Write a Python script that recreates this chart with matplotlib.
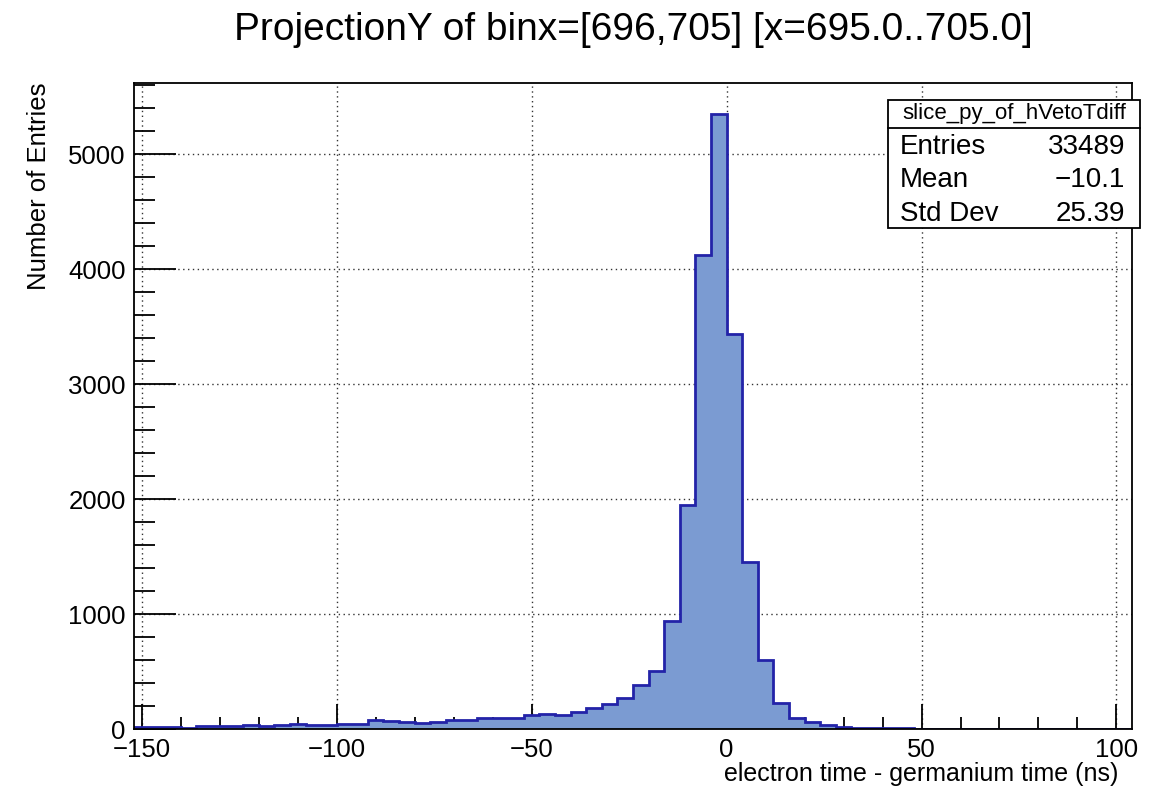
import numpy as np
import matplotlib
matplotlib.use('Agg')
import matplotlib.pyplot as plt
from matplotlib.ticker import MultipleLocator, FuncFormatter

plt.rcParams['font.family'] = ['Liberation Sans', 'DejaVu Sans']

# 4 ns bins from -152 to 104 ns
bin_edges = np.arange(-152, 105, 4)
counts = [
    23, 23, 23, 12, 26, 26, 26, 38, 29, 41, 49, 38, 38, 49, 49, 84,
    75, 64, 58, 61, 78, 78, 96, 96, 96, 125, 137, 127, 155, 190, 220, 275,
    386, 511, 939, 1949, 4124, 5352, 3440, 1458, 602, 233, 96, 67, 41, 20, 12, 10,
    9, 8, 2, 2, 1, 6, 6, 1, 1, 1, 1, 1, 6, 6, 6, 2,
]

title = 'ProjectionY of binx=[696,705] [x=695.0..705.0]'
stats_name = 'slice_py_of_hVetoTdiff'
stats_rows = [('Entries', '33489'), ('Mean', '\u221210.1'), ('Std Dev', '25.39')]

fill_col = '#7b9bd2'
line_col = '#2323a8'

fig = plt.figure(figsize=(11.6, 7.86), dpi=100)
ax = fig.add_axes([0.1155, 0.072, 0.8604, 0.8225])

ax.stairs(counts, bin_edges, fill=True, color=fill_col, zorder=2)
ax.stairs(counts, bin_edges, color=line_col, linewidth=2, zorder=3)

ax.set_xlim(bin_edges[0], bin_edges[-1])
ax.set_ylim(0, max(counts) * 1.05)

ax.xaxis.set_major_locator(MultipleLocator(50))
ax.xaxis.set_minor_locator(MultipleLocator(10))
ax.yaxis.set_major_locator(MultipleLocator(1000))
ax.yaxis.set_minor_locator(MultipleLocator(200))
minus = FuncFormatter(lambda v, p: ('%d' % v).replace('-', '\u2212'))
ax.xaxis.set_major_formatter(minus)

ax.tick_params(which='both', direction='in', top=False, right=False,
               labelsize=18.5, width=1.3, color='black')
ax.tick_params(axis='x', which='major', length=18, pad=6)
ax.tick_params(axis='x', which='minor', length=9)
ax.tick_params(axis='y', which='major', length=30, pad=6)
ax.tick_params(axis='y', which='minor', length=15)

ax.grid(True, which='major', linestyle=(0, (1, 2.5)), color='#333333', linewidth=1, zorder=1)
ax.set_axisbelow(True)
for s in ax.spines.values():
    s.set_linewidth(1.3)
    s.set_zorder(4)

ax.set_xlabel('electron time - germanium time (ns)', fontsize=18, loc='right')
ax.xaxis.set_label_coords(0.986, -0.05)
ax.set_ylabel('Number of Entries', fontsize=18.5, loc='top')
ax.yaxis.set_label_coords(-0.083, 1.0)

fig.text(0.5457, 0.962, title, ha='center', va='center', fontsize=28)

# statistics box
bx0, bx1 = 888 / 1160, 1140 / 1160
by_top, by_hdr, by_bot = 1 - 100 / 786, 1 - 128 / 786, 1 - 228 / 786
fig.patches.append(plt.Rectangle((bx0, by_bot), bx1 - bx0, by_top - by_bot,
                                 transform=fig.transFigure, facecolor='white',
                                 edgecolor='black', linewidth=1.3, zorder=5))
fig.add_artist(plt.Line2D([bx0, bx1], [by_hdr, by_hdr], transform=fig.transFigure,
                          color='black', linewidth=1.3, zorder=6))
fig.text((bx0 + bx1) / 2, (by_top + by_hdr) / 2, stats_name, ha='center', va='center',
         fontsize=16, zorder=7)
row_h = (by_hdr - by_bot) / len(stats_rows)
for i, (k, v) in enumerate(stats_rows):
    yy = by_hdr - row_h * (i + 0.5) - 0.003
    fig.text(bx0 + 0.0105, yy, k, ha='left', va='center', fontsize=20, zorder=7)
    fig.text(bx1 - 0.013, yy, v, ha='right', va='center', fontsize=20, zorder=7)

fig.savefig('out.png', dpi=100)
